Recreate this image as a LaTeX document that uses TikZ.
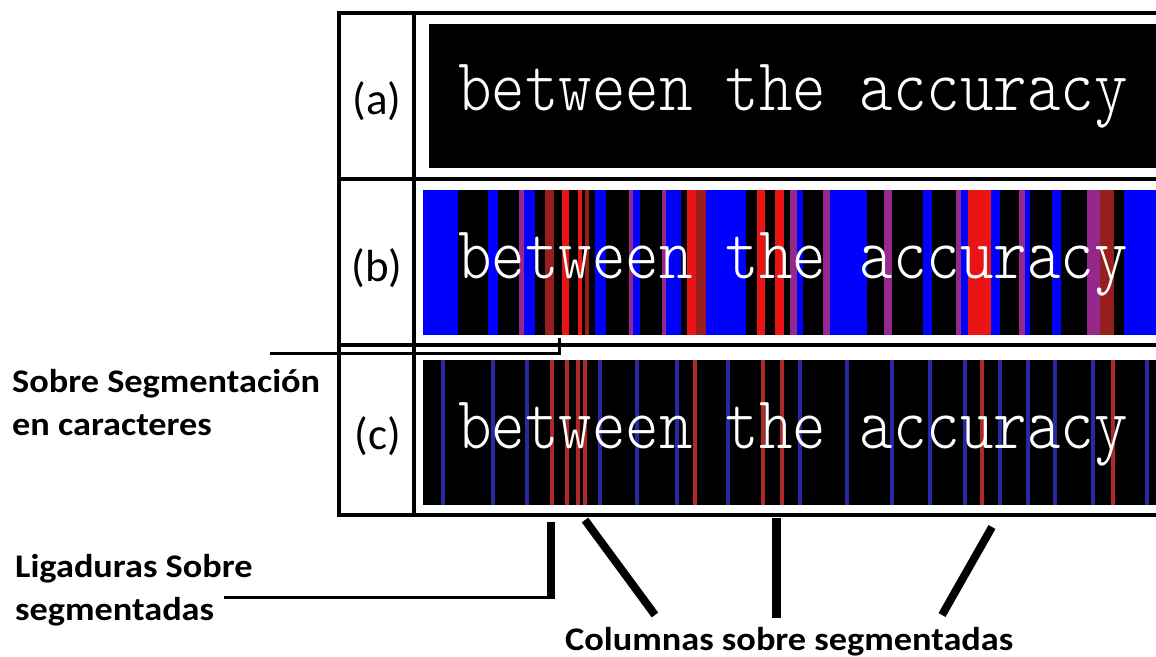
\documentclass[tikz,border=0pt]{standalone}
\usepackage{fontspec}
\setmainfont{Carlito}
\newfontfamily\scanfont{lmmonolt10-regular.otf}[FakeStretch=0.85]
\newfontfamily\notefont{Carlito}[FakeStretch=1.1]
\usetikzlibrary{positioning}

\definecolor{scanblue}{RGB}{0,0,255}
\definecolor{scanred}{RGB}{235,20,20}
\definecolor{scanrust}{RGB}{150,30,28}
\definecolor{scanplum}{RGB}{150,40,140}
\definecolor{linenavy}{RGB}{40,40,165}
\definecolor{linewine}{RGB}{175,40,40}

\begin{document}
\begin{tikzpicture}[
  x=1pt, y=-1pt,
  grid/.style={line width=4pt},
  tag/.style={inner sep=0pt, font=\fontsize{45}{45}\selectfont},
  scan/.style={anchor=base west, inner sep=0pt, text=white,
    font=\scanfont\fontsize{75}{75}\selectfont},
  note/.style={anchor=base west, inner sep=0pt, align=left,
    font=\notefont\bfseries\fontsize{33}{42.5}\selectfont},
  lead/.style={line width=3pt},
  pointer/.style={line width=8pt}
]
\useasboundingbox (0,0) rectangle (1156,656);

% image strips
\fill[black] (429,24) rectangle (1160,168);
\fill[black] (423,190) rectangle (1160,335);
\fill[black] (423,360) rectangle (1160,505);

% over-segmentation bands, row (b)
\foreach \xa/\xb/\col in {423/458/scanblue, 488/498/scanblue, 519/524/scanplum,
    524/535/scanblue, 545/554/scanrust, 562/569/scanred, 578/582/scanred,
    585/589/scanrust, 595/606/scanblue, 629/633/scanplum, 633/640/scanblue,
    662/666/scanplum, 666/681/scanblue, 687/696/scanred, 696/706/scanrust,
    706/746/scanblue, 757/765/scanred, 775/784/scanred, 790/797/scanplum,
    797/803/scanblue, 823/830/scanplum, 830/867/scanblue, 884/892/scanplum,
    923/932/scanblue, 956/961/scanplum, 961/968/scanblue, 968/991/scanred,
    991/1000/scanblue, 1019/1025/scanplum, 1025/1030/scanblue,
    1052/1061/scanblue, 1087/1100/scanplum, 1100/1114/scanrust,
    1124/1160/scanblue}
  \fill[\col] (\xa,190) rectangle (\xb,335);

% column cuts, row (c)
\foreach \x in {443,493,527,600,637,677,728,800,847,892,930,965,1000,1028,
    1055,1093,1147}
  \fill[linenavy] (\x-1.8,360) rectangle (\x+1.8,505);
\foreach \x in {552,567,578,585,695,763,782,982,1113}
  \fill[linewine] (\x-1.8,360) rectangle (\x+1.8,505);

\node[scan] (texta) at (458,110) {between the accuracy};
\node[scan] (textb) at (458,278) {between the accuracy};
\node[scan] (textc) at (458,448) {between the accuracy};

% table
\draw[grid] (1160,13) -- (339,13) -- (339,515) -- (1160,515);
\draw[grid] (339,179) -- (1160,179);
\draw[grid] (339,345) -- (1160,345);
\draw[grid] (414,13) -- (414,515);

\node[tag] (taga) at (377,101) {(a)};
\node[tag] (tagb) at (377,268) {(b)};
\node[tag] (tagc) at (378,436) {(c)};

% notes (base = last line)
\node[note] (overseg) at (12,435) {Sobre Segmentación\\en caracteres};
\node[note] (ligseg) at (15,620) {Ligaduras Sobre\\segmentadas};
\node[note] (colseg) at (565,650) {Columnas sobre segmentadas};

\coordinate (oversegtail) at (270,353);
\coordinate (oversegtip) at (559,338);
\coordinate (ligtail) at (224,597);
\coordinate (ligtip) at (551,522);
\coordinate (colaend) at (655,615);
\coordinate (colatip) at (585,520);
\coordinate (colbend) at (776,618);
\coordinate (colbtip) at (776,518);
\coordinate (colcend) at (942,615);
\coordinate (colctip) at (992,527);

\draw[lead] (oversegtail) -| (oversegtip);
\draw[lead] (ligtail) -- (ligtail -| ligtip);
\draw[pointer] (ligtip) -- ([yshift=-1.5pt]ligtip |- ligtail);
\draw[pointer] (colaend) -- (colatip);
\draw[pointer, line width=9pt] (colbend) -- (colbtip);
\draw[pointer] (colcend) -- (colctip);
\end{tikzpicture}
\end{document}
